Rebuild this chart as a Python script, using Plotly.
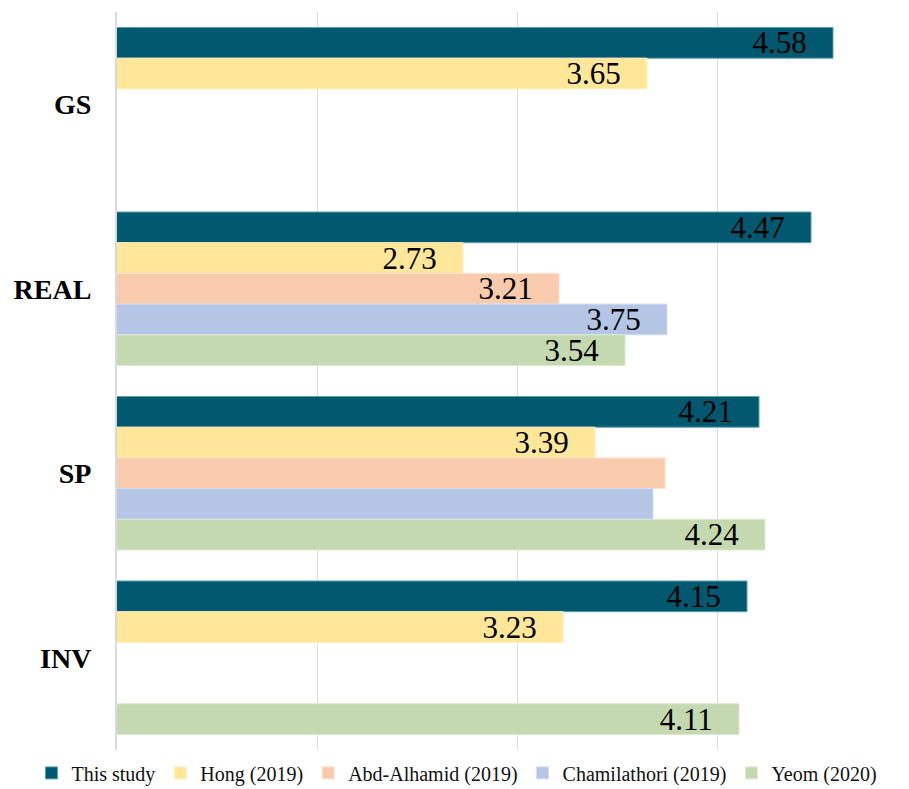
import plotly.graph_objects as go

categories = ["GS", "REAL", "SP", "INV"]
series_names = ["This study", "Hong (2019)", "Abd-Alhamid (2019)", "Chamilathori (2019)", "Yeom (2020)"]
this_study = [4.58, 4.47, 4.21, 4.15]
hong = [3.65, 2.73, 3.39, 3.23]
abd_alhamid = [None, 3.21, 3.74, None]
chamilathori = [None, 3.75, 3.68, None]
yeom = [None, 3.54, 4.24, 4.11]
# whether the value label is printed on the bar
this_study_lbl = [True, True, True, True]
hong_lbl = [True, True, True, True]
abd_alhamid_lbl = [False, True, False, False]
chamilathori_lbl = [False, True, False, False]
yeom_lbl = [False, True, True, True]

colors = ["#02596f", "#ffe699", "#f8cbad", "#b4c5e6", "#c5d9b0"]
edge = ["#5a9fb2", "#fff0c0", "#fde0cc", "#d3ddf2", "#dde9d0"]

all_vals = [this_study, hong, abd_alhamid, chamilathori, yeom]
all_lbls = [this_study_lbl, hong_lbl, abd_alhamid_lbl, chamilathori_lbl, yeom_lbl]

SERIF = "Liberation Serif, Times New Roman, serif"
pad = "\u00a0\u00a0\u00a0"

fig = go.Figure()
for name, vals, lbls, c, e in zip(series_names, all_vals, all_lbls, colors, edge):
    texts = [(f"{v:.2f}" + pad) if (v is not None and s) else "" for v, s in zip(vals, lbls)]
    fig.add_trace(go.Bar(
        name=name, y=categories, x=vals, orientation="h",
        marker=dict(color=c, line=dict(color=e, width=1)),
        text=texts, textposition="inside", insidetextanchor="end",
        constraintext="none", cliponaxis=False,
        textfont=dict(family=SERIF, size=31, color="black"),
        hoverinfo="skip",
    ))

fig.update_layout(
    width=909, height=789,
    margin=dict(l=117, r=0, t=12, b=39, autoexpand=False),
    barmode="group", bargap=0.168, bargroupgap=0,
    plot_bgcolor="white", paper_bgcolor="white",
    showlegend=True,
    legend=dict(orientation="h", x=-0.108, xanchor="left",
                y=-0.031, yanchor="middle",
                font=dict(family=SERIF, size=20, color="#111111"),
                itemwidth=30, traceorder="normal"),
    xaxis=dict(range=[1, 4.96], tick0=1, dtick=1, showticklabels=False,
               showgrid=True, gridcolor="#dcdcdc", gridwidth=1, zeroline=False,
               showline=False),
    yaxis=dict(autorange="reversed", showgrid=False, showline=True,
               linecolor="#d6d9e6", linewidth=2,
               ticks="outside", ticklen=18, tickcolor="rgba(0,0,0,0)",
               tickfont=dict(family=SERIF, size=28, color="black", weight="bold")),
)

fig.write_html("out.html")
